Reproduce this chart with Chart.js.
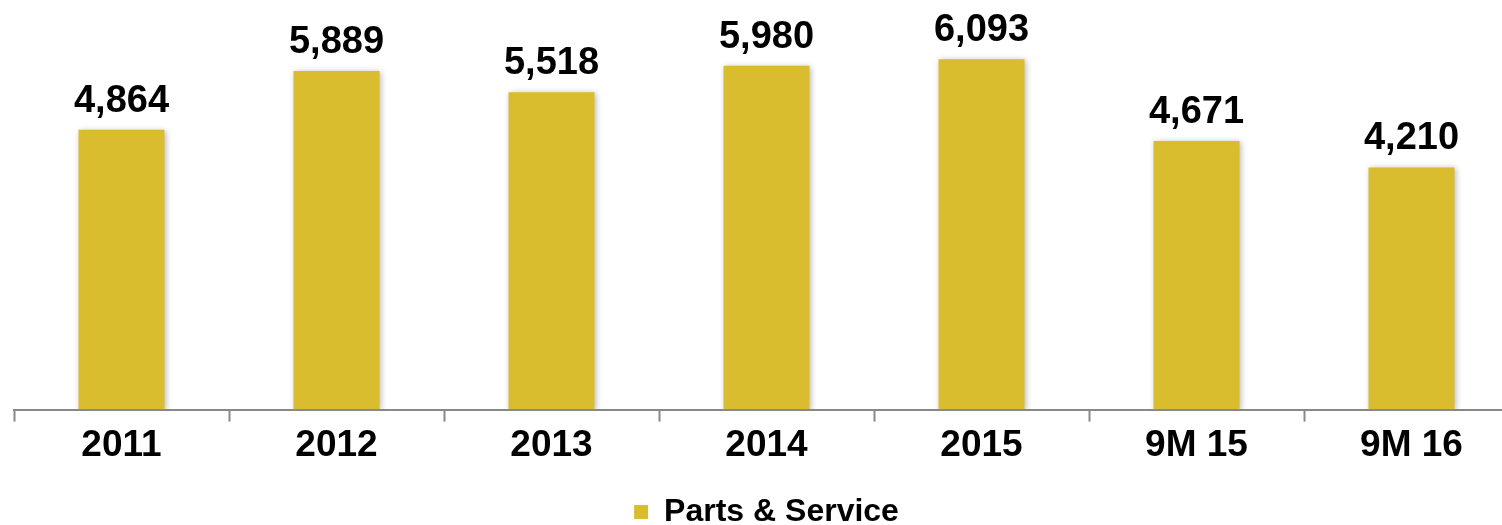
<!DOCTYPE html>
<html>
<head>
<meta charset="utf-8">
<script src="https://cdn.jsdelivr.net/npm/chart.js@4/dist/chart.umd.min.js"></script>
<style>
    html, body { margin: 0; padding: 0; background: #fff; overflow: hidden; }
    #wrap { width: 1520px; height: 525px; position: relative; }
</style>
</head>
<body>
<div id="wrap"><canvas id="partsPlot"></canvas></div>
<script>
const categories = ['2011', '2012', '2013', '2014', '2015', '9M 15', '9M 16'];
const partsValues = [4864, 5889, 5518, 5980, 6093, 4671, 4210];
const seriesName = 'Parts & Service';

const gold = '#D9BD2E';
const fontFamily = '"Liberation Sans", Arial, Helvetica, sans-serif';

// soft shadow round the bars, like the original
const barShadow = {
    id: 'barShadow',
    beforeDatasetDraw(chart) {
        const ctx = chart.ctx;
        ctx.save();
        ctx.shadowColor = 'rgba(0, 0, 0, 0.28)';
        ctx.shadowBlur = 6;
        ctx.shadowOffsetX = 1;
        ctx.shadowOffsetY = 1;
    },
    afterDatasetDraw(chart) {
        chart.ctx.restore();
    }
};

// value labels above each bar
const valueLabels = {
    id: 'valueLabels',
    afterDatasetsDraw(chart) {
        const ctx = chart.ctx;
        const meta = chart.getDatasetMeta(0);
        ctx.save();
        ctx.font = 'bold 38px ' + fontFamily;
        ctx.fillStyle = '#000';
        ctx.textAlign = 'center';
        ctx.textBaseline = 'alphabetic';
        meta.data.forEach((bar, i) => {
            const value = chart.data.datasets[0].data[i];
            ctx.fillText(value.toLocaleString('en-US'), bar.x, bar.y - 18);
        });
        ctx.restore();
    }
};

const partsChart = new Chart(document.getElementById('partsPlot'), {
    type: 'bar',
    data: {
        labels: categories,
        datasets: [
            {
                label: seriesName,
                data: partsValues,
                backgroundColor: gold,
                borderWidth: 0,
                barPercentage: 0.4,
                categoryPercentage: 1
            }
        ]
    },
    options: {
        responsive: true,
        maintainAspectRatio: false,
        animation: false,
        events: [],
        layout: {
            padding: { top: 7, left: 14, right: 1, bottom: -13 }
        },
        plugins: {
            tooltip: { enabled: false },
            legend: {
                position: 'bottom',
                labels: {
                    color: '#000',
                    boxWidth: 14,
                    boxHeight: 14,
                    padding: 8,
                    font: { family: fontFamily, size: 32, weight: 'bold' }
                }
            }
        },
        scales: {
            x: {
                border: { display: true, color: '#888', width: 2 },
                grid: {
                    offset: true,
                    drawOnChartArea: false,
                    drawTicks: true,
                    tickLength: 12,
                    tickWidth: 2,
                    tickColor: '#888'
                },
                ticks: {
                    color: '#000',
                    padding: 2,
                    font: { family: fontFamily, size: 37, weight: 'bold' }
                },
                // leave room so the legend sits low, as in the original
                afterFit(scale) {
                    scale.height += 18;
                }
            },
            y: {
                display: false,
                min: 0,
                max: 7000
            }
        }
    },
    plugins: [barShadow, valueLabels]
});
</script>
</body>
</html>
